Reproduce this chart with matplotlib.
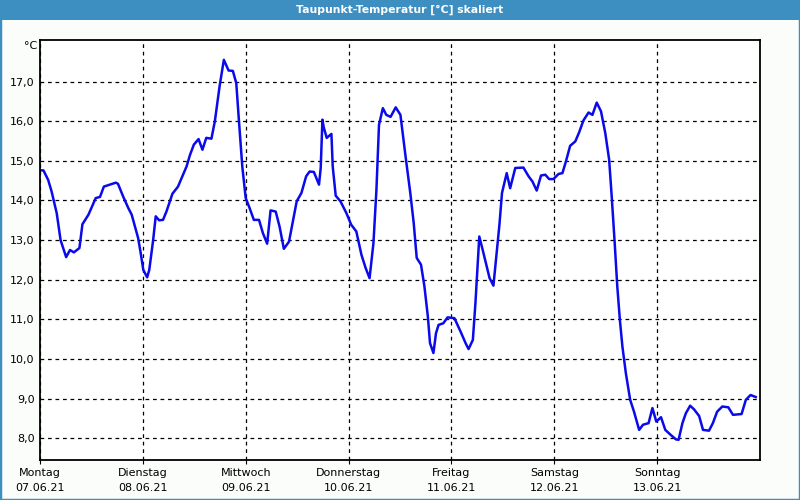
import matplotlib
matplotlib.use('Agg')
import matplotlib.pyplot as plt
from matplotlib.patches import Rectangle

# Dew point readings: time in hours since Monday 00:00, value in °C
hours = [0.2, 0.8, 1.9, 2.7, 3.9, 4.8, 6.1, 7.0, 7.9, 9.2, 9.9, 11.3, 13.0, 14.0,
         14.9, 16.3, 17.7, 18.2, 19.4, 20.6, 21.4, 22.9, 23.5, 24.1, 25.0, 25.5,
         26.4, 27.0, 27.8, 28.7, 29.5, 30.9, 32.2, 34.2, 35.0, 35.9, 37.0, 37.9,
         38.8, 40.0, 40.8, 41.9, 42.9, 44.0, 45.0, 45.8, 46.4, 47.2, 48.0, 48.9,
         49.9, 51.1, 52.0, 53.0, 53.8, 55.0, 55.9, 56.9, 58.1, 59.0, 59.9, 61.0,
         62.1, 62.9, 63.9, 65.1, 65.5, 65.9, 66.2, 66.9, 68.0, 68.3, 69.0, 70.1,
         71.5, 72.6, 73.8, 75.0, 76.0, 76.9, 77.8, 78.5, 79.1, 80.0, 80.8, 81.8,
         83.0, 84.1, 85.3, 86.4, 87.2, 87.9, 88.9, 89.7, 90.5, 91.0, 91.8, 92.4,
         93.0, 94.1, 95.1, 96.7, 98.3, 99.3, 100.0, 101.0, 101.6, 102.5, 103.3,
         104.9, 105.8, 106.4, 107.2, 107.8, 108.9, 109.7, 110.9, 112.8, 114.0,
         114.9, 115.9, 116.9, 117.9, 118.8, 119.8, 121.0, 121.9, 122.7, 123.7,
         124.9, 125.8, 126.8, 128.0, 128.9, 129.9, 130.9, 131.9, 132.8, 133.4,
         134.1, 134.7, 135.3, 135.9, 136.7, 137.7, 138.6, 139.8, 140.7, 142.0,
         142.9, 143.8, 144.9, 145.9, 147.2, 148.4, 149.0, 149.9, 150.7, 151.7,
         152.6, 153.8, 154.7, 156.1, 157.0, 158.0, 159.2, 160.6, 161.7, 163.7,
         164.7, 165.8, 167.0]
taupunkt = [14.76, 14.76, 14.52, 14.23, 13.68, 13.0, 12.57, 12.75, 12.69, 12.8,
            13.4, 13.64, 14.06, 14.09, 14.35, 14.4, 14.45, 14.42, 14.1, 13.81,
            13.64, 13.05, 12.67, 12.25, 12.06, 12.25, 13.0, 13.6, 13.5, 13.51,
            13.72, 14.17, 14.35, 14.86, 15.15, 15.41, 15.55, 15.28, 15.58, 15.56,
            16.0, 16.88, 17.55, 17.28, 17.27, 16.96, 16.04, 14.86, 14.06, 13.81,
            13.51, 13.51, 13.18, 12.91, 13.75, 13.72, 13.34, 12.78, 12.96, 13.47,
            13.98, 14.19, 14.61, 14.73, 14.72, 14.40, 14.82, 16.04, 15.85, 15.58,
            15.68, 14.86, 14.12, 13.98, 13.68, 13.39, 13.22, 12.63, 12.29, 12.04,
            12.92, 14.27, 15.91, 16.33, 16.16, 16.11, 16.35, 16.16, 15.11, 14.19,
            13.43, 12.55, 12.38, 11.83, 11.07, 10.40, 10.15, 10.65, 10.86, 10.90,
            11.05, 11.03, 10.65, 10.40, 10.25, 10.48, 11.41, 13.09, 12.75, 12.04,
            11.85, 12.50, 13.39, 14.19, 14.69, 14.31, 14.82, 14.83, 14.61, 14.48,
            14.25, 14.63, 14.65, 14.54, 14.54, 14.67, 14.69, 14.98, 15.38, 15.49,
            15.72, 16.02, 16.22, 16.16, 16.47, 16.25, 15.70, 15.03, 14.10, 12.92,
            11.83, 10.99, 10.31, 9.64, 8.97, 8.67, 8.21, 8.34, 8.38, 8.76, 8.42,
            8.53, 8.21, 8.08, 7.97, 7.96, 8.38, 8.63, 8.82, 8.73, 8.56, 8.21, 8.19,
            8.38, 8.67, 8.80, 8.78, 8.59, 8.61, 8.97, 9.09, 9.04]

tage = ['Montag', 'Dienstag', 'Mittwoch', 'Donnerstag', 'Freitag', 'Samstag', 'Sonntag']
daten = ['07.06.21', '08.06.21', '09.06.21', '10.06.21', '11.06.21', '12.06.21', '13.06.21']
y_ticks = [8, 9, 10, 11, 12, 13, 14, 15, 16, 17]

blau = '#3d8fc1'

fig = plt.figure(figsize=(8, 5), dpi=100, facecolor='#fbfdfb')
ax = fig.add_axes([0.05, 0.08, 0.90, 0.84])

ax.plot(hours, taupunkt, color='#0a0aeb', lw=1.8)

ax.set_xlim(0, 168)
ax.set_ylim(7.45, 18.05)
ax.set_xticks([24 * i for i in range(len(tage))])
ax.set_xticklabels([t + '\n' + d for t, d in zip(tage, daten)], fontsize=8, linespacing=1.6)
ax.set_yticks(y_ticks)
ax.set_yticklabels([('%.1f' % v).replace('.', ',') for v in y_ticks], fontsize=8)
ax.tick_params(axis='y', length=0, pad=4)
ax.tick_params(axis='x', length=3, pad=3)
ax.grid(True, color='black', linestyle=(0, (3, 3)), linewidth=0.9)
ax.set_facecolor('white')
for s in ax.spines.values():
    s.set_linewidth(1.3)

fig.text(37 / 800, 1 - 46 / 500, '°C', ha='right', va='center', fontsize=8)

# title bar and frame
fig.patches.append(Rectangle((0, 1 - 20 / 500), 1, 20 / 500, transform=fig.transFigure,
                             facecolor=blau, edgecolor='none', zorder=0))
fig.patches.append(Rectangle((0, 0), 1, 1, transform=fig.transFigure,
                             facecolor='none', edgecolor=blau, lw=2.5, zorder=1))
fig.text(0.5, 1 - 10 / 500, 'Taupunkt-Temperatur [°C] skaliert', ha='center', va='center',
         color='white', fontsize=7.8, fontweight='bold')

fig.savefig('out.png', dpi=100, facecolor=fig.get_facecolor())
